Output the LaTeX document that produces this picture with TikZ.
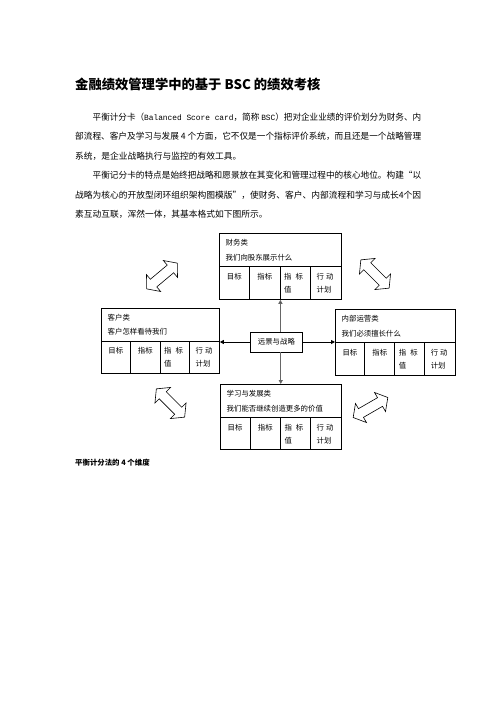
\documentclass[tikz,border=0pt]{standalone}
\usepackage{fontspec}
\usepackage{graphicx}
\setmainfont{Noto Sans CJK SC}
\newfontfamily\monof{Liberation Mono}
\usetikzlibrary{arrows.meta}
\tikzset{
  panel/.style={draw=black, line width=0.8pt, inner sep=0pt},
  ptxt/.style={inner sep=0pt, font=\fontsize{7.4}{9}\selectfont},
  bodyline/.style={inner sep=0pt, anchor=west, font=\fontsize{8.75}{10}\selectfont},
  rule/.style={line width=0.8pt},
  vconn/.style={draw=black!60, line width=1.4pt, -{Triangle[length=4pt,width=4pt,fill=black]}},
  hconn/.style={draw=black, line width=0.9pt, -{Triangle[length=4pt,width=4pt]}},
  hollow/.style={draw=black, line width=0.6pt, fill=white, line join=miter}
}
\newcommand{\bscpanel}[7]{%
  \pgfmathsetmacro{\bR}{#2+#4}%
  \pgfmathsetmacro{\bB}{#3+#5}%
  \pgfmathsetmacro{\bD}{#3+33.5}%
  \pgfmathsetmacro{\cA}{#2+#4/4}%
  \pgfmathsetmacro{\cB}{#2+#4/2}%
  \pgfmathsetmacro{\cC}{#2+3*#4/4}%
  \pgfmathsetmacro{\mA}{#2+#4/8}%
  \pgfmathsetmacro{\mB}{#2+3*#4/8}%
  \node[panel, minimum width=#4pt, minimum height=#5pt, anchor=north west] (#1) at (#2,#3) {};
  \draw[rule] (#2,\bD) -- (\bR,\bD);
  \draw[rule] (\cA,\bD) -- (\cA,\bB);
  \draw[rule] (\cB,\bD) -- (\cB,\bB);
  \draw[rule] (\cC,\bD) -- (\cC,\bB);
  \node[ptxt, anchor=west] (#1-ta) at ({#2+6.5},{#3+10}) {#6};
  \node[ptxt, anchor=west] (#1-tb) at ({#2+6.5},{#3+24.5}) {#7};
  \node[ptxt] (#1-c1) at (\mA,{\bD+10}) {目标};
  \node[ptxt] (#1-c2) at (\mB,{\bD+10}) {指标};
  \node[ptxt, anchor=west] (#1-c3a) at ({\cB+4},{\bD+10}) {指\hspace{4pt}标};
  \node[ptxt, anchor=west] (#1-c3b) at ({\cB+4},{\bD+23}) {值};
  \node[ptxt, anchor=west] (#1-c4a) at ({\cC+6},{\bD+10}) {行\hspace{2pt}动};
  \node[ptxt, anchor=west] (#1-c4b) at ({\cC+6},{\bD+23}) {计划};
}
\newcommand{\dblarrow}[3]{%
  \draw[hollow, shift={(#1,#2)}, rotate=#3]
    (-20,0) -- (-11,11) -- (-11,5) -- (11,5) -- (11,11) -- (20,0)
    -- (11,-11) -- (11,-5) -- (-11,-5) -- (-11,-11) -- cycle;
}
\begin{document}
\begin{tikzpicture}[x=1pt,y=-1pt]
\fill[white] (0,0) rectangle (496,702);
\useasboundingbox (0,0) rectangle (496,702);

% title
\node[inner sep=0pt, anchor=west, font=\fontsize{13.3}{16}\selectfont\bfseries] (title) at (75,84) {金融绩效管理学中的基于 BSC 的绩效考核};

% body text
\node[bodyline] (p1a) at (92.5,117) {\resizebox{328.5pt}{\height}{平衡计分卡（{\monof\fontsize{8}{10}\selectfont Balanced Score card}，简称 {\monof\fontsize{8}{10}\selectfont BSC}）把对企业业绩的评价划分为财务、内}};
\node[bodyline] (p1b) at (75,136.5) {\resizebox{346pt}{\height}{部流程、客户及学习与发展 4 个方面，它不仅是一个指标评价系统，而且还是一个战略管理}};
\node[bodyline] (p1c) at (75,156) {系统，是企业战略执行与监控的有效工具。};
\node[bodyline] (p2a) at (92.5,175.5) {\resizebox{328.5pt}{\height}{平衡记分卡的特点是始终把战略和愿景放在其变化和管理过程中的核心地位。构建“以}};
\node[bodyline] (p2b) at (75,195) {\resizebox{346pt}{\height}{战略为核心的开放型闭环组织架构图模版”，使财务、客户、内部流程和学习与成长4个因}};
\node[bodyline] (p2c) at (75,214.5) {素互动互联，浑然一体，其基本格式如下图所示。};

% panels
\bscpanel{fin}{219}{233}{122}{66}{财务类}{我们向股东展示什么}
\bscpanel{cust}{101}{307.5}{118}{65.5}{客户类}{客户怎样看待我们}
\bscpanel{proc}{335}{309}{119.5}{65.5}{内部运营类}{我们必须擅长什么}
\bscpanel{learn}{220}{384}{120.7}{65}{学习与发展类}{我们能否继续创造更多的价值}

% centre
\node[panel, fill=white, minimum width=52pt, minimum height=20pt, font=\fontsize{7.4}{9}\selectfont] (vis) at (276.4,342) {远景与战略};

% connectors
\draw[vconn] (vis.north -| fin.south) -- (fin.south);
\draw[vconn] (vis.south -| learn.north) -- (learn.north);
\draw[hconn] (vis.west) -- (vis.west -| cust.east);
\draw[hconn] (vis.east) -- (vis.east -| proc.west);

% hollow double arrows
\dblarrow{162}{276}{40}
\dblarrow{375}{274}{-45}
\dblarrow{170.5}{403}{-45}
\dblarrow{370.5}{407.5}{30}

% caption
\node[inner sep=0pt, anchor=west, font=\fontsize{7.4}{9}\selectfont\bfseries] (cap) at (75,463) {平衡计分法的 4 个维度};
\end{tikzpicture}
\end{document}
